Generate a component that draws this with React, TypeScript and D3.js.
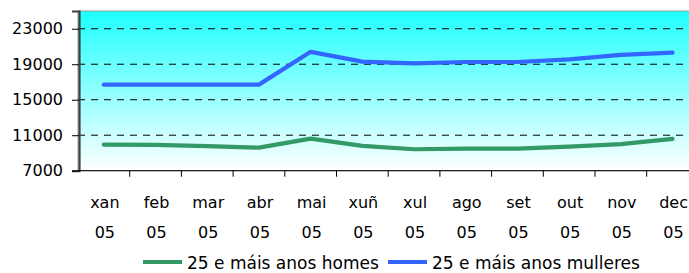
import * as d3 from 'd3';
import React, { useEffect, useRef } from 'react';

const months = ['xan', 'feb', 'mar', 'abr', 'mai', 'xuñ', 'xul', 'ago', 'set', 'out', 'nov', 'dec'];
const yearLabel = '05';
const homes = [9940, 9900, 9760, 9600, 10620, 9800, 9420, 9490, 9490, 9720, 9990, 10590];
const mulleres = [16700, 16700, 16700, 16700, 20400, 19300, 19100, 19250, 19250, 19550, 20050, 20300];
const yTicks = [7000, 11000, 15000, 19000, 23000];
const seriesNames = ['25 e máis anos homes', '25 e máis anos mulleres'];

const W = 689;
const H = 273;
const FONT = '"DejaVu Sans", Verdana, sans-serif';

const App: React.FC = () => {
  const ref = useRef<SVGSVGElement | null>(null);

  useEffect(() => {
    if (!ref.current) return;
    const svg = d3.select(ref.current);
    svg.selectAll('*').remove();

    const left = 78;
    const step = 51.7;
    const top = 11;
    const bottom = 170.7;

    const x = d3.scaleBand().domain(months).range([left, left + step * months.length]).padding(0);
    const y = d3.scaleLinear().domain([7000, 25000]).range([bottom, top]);
    const cx = (m: string) => (x(m) ?? 0) + x.bandwidth() / 2;

    // background gradient of the plot area
    const defs = svg.append('defs');
    const grad = defs
      .append('linearGradient')
      .attr('id', 'bg')
      .attr('x1', 0)
      .attr('y1', 0)
      .attr('x2', 0)
      .attr('y2', 1);
    grad.append('stop').attr('offset', '0%').attr('stop-color', '#1effff');
    grad.append('stop').attr('offset', '100%').attr('stop-color', '#ffffff');

    const plotRight = left + step * months.length;
    svg
      .append('rect')
      .attr('x', left)
      .attr('y', top)
      .attr('width', plotRight - left)
      .attr('height', bottom - top)
      .attr('fill', 'url(#bg)')
      .attr('stroke', '#9a9a9a')
      .attr('stroke-width', 1);

    // dashed gridlines
    svg
      .append('g')
      .selectAll('line')
      .data(yTicks.filter((t) => t > 7000))
      .enter()
      .append('line')
      .attr('x1', left)
      .attr('x2', plotRight)
      .attr('y1', (d) => y(d))
      .attr('y2', (d) => y(d))
      .attr('stroke', '#000')
      .attr('stroke-width', 1)
      .attr('stroke-dasharray', '7,6');

    // Y axis
    const yAxis = svg
      .append('g')
      .attr('transform', `translate(${left + 1},0)`)
      .call(d3.axisLeft(y).tickValues(yTicks).tickSize(7).tickPadding(9).tickFormat(d3.format('d')));
    yAxis.select('.domain').attr('stroke', '#404040').attr('stroke-width', 2.2);
    yAxis.selectAll('.tick line').attr('stroke', '#000');
    yAxis
      .selectAll('.tick text')
      .style('font-family', FONT)
      .style('font-size', '16px')
      .attr('fill', '#000');

    // X axis
    svg
      .append('line')
      .attr('x1', left)
      .attr('x2', plotRight)
      .attr('y1', bottom)
      .attr('y2', bottom)
      .attr('stroke', '#000')
      .attr('stroke-width', 1);
    svg
      .append('g')
      .selectAll('line')
      .data(months.slice(1))
      .enter()
      .append('line')
      .attr('x1', (d) => x(d) ?? 0)
      .attr('x2', (d) => x(d) ?? 0)
      .attr('y1', bottom)
      .attr('y2', bottom + 6)
      .attr('stroke', '#000');

    const xl = svg
      .append('g')
      .selectAll('text')
      .data(months)
      .enter()
      .append('text')
      .attr('text-anchor', 'middle')
      .style('font-family', FONT)
      .style('font-size', '16px')
      .attr('fill', '#000');
    xl.append('tspan').attr('x', (d) => cx(d) + 1).attr('y', 208).text((d) => d);
    xl.append('tspan').attr('x', (d) => cx(d) + 1).attr('y', 238).text(yearLabel);

    // lines
    const series = [
      { name: seriesNames[0], values: homes, color: '#339966' },
      { name: seriesNames[1], values: mulleres, color: '#3366ff' },
    ];
    const line = d3
      .line<number>()
      .x((_, i) => cx(months[i]))
      .y((d) => y(d));
    series.forEach((s) => {
      svg
        .append('path')
        .attr('d', line(s.values))
        .attr('fill', 'none')
        .attr('stroke', s.color)
        .attr('stroke-width', 4.2)
        .attr('stroke-linecap', 'round')
        .attr('stroke-linejoin', 'round');
    });

    // legend
    const legendPos = [143, 388];
    series.forEach((s, i) => {
      const g = svg.append('g').attr('transform', `translate(${legendPos[i]},262)`);
      g.append('line').attr('x1', 0).attr('x2', 39).attr('stroke', s.color).attr('stroke-width', 4);
      g.append('text')
        .attr('x', 44)
        .attr('y', 6.5)
        .style('font-family', FONT)
        .style('font-size', '17px')
        .attr('fill', '#000')
        .text(s.name);
    });
  }, []);

  return (
    <svg
      ref={ref}
      width={W}
      height={H}
      style={{ position: 'absolute', left: 0, top: 0, background: '#fff' }}
    ></svg>
  );
};

export default App;
